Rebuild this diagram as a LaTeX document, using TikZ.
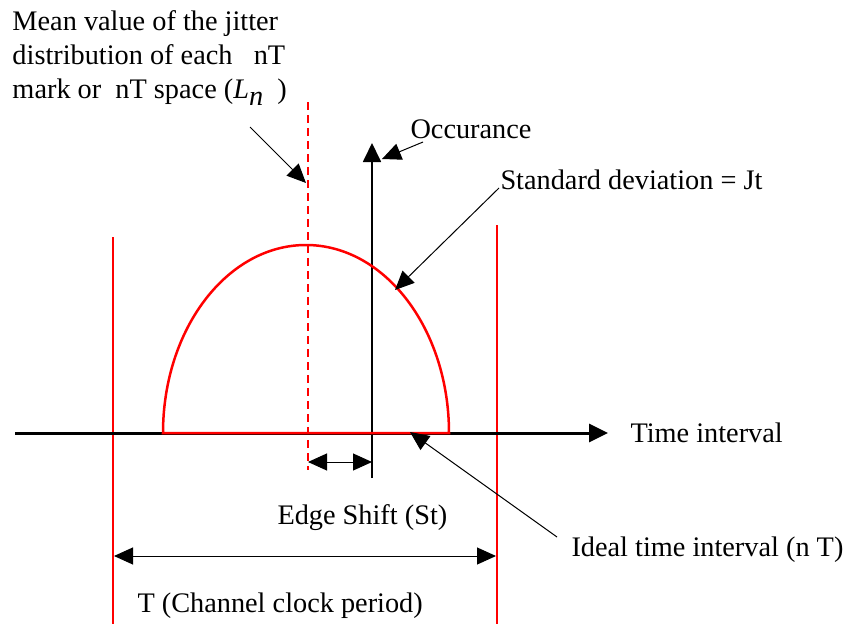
\documentclass[tikz,border=0pt]{standalone}
\usepackage{fontspec}
\setmainfont{Liberation Serif}
\usetikzlibrary{arrows.meta}

\begin{document}
\begin{tikzpicture}[x=1pt,y=-1pt,line width=1pt,
  lbl/.style={font=\fontsize{28.3}{34}\selectfont,inner sep=0pt},
  ptr/.style={-{Triangle[length=19pt,width=17pt]},line width=1pt},
  dblptr/.style={{Triangle[length=19pt,width=17pt]}-{Triangle[length=19pt,width=17pt]},line width=1pt}]
  \colorlet{clock}{red}
  \useasboundingbox (0,0) rectangle (846,624);
  % channel clock edges and the mean value of the distribution
  \draw[clock,line width=2.5pt] (113,237) -- (113,624);
  \draw[clock,line width=2.5pt] (497,225) -- (497,624);
  \draw[clock,line width=2.2pt,dash pattern=on 8pt off 5pt] (308,102) -- (308,470);
  % time axis and occurance axis
  \draw[-{Triangle[length=19pt,width=18pt]},line width=3pt] (15,433) -- (608,433);
  \draw[-{Triangle[length=19pt,width=18pt]},line width=1.8pt] (372,478) -- (372,143);
  % jitter distribution (half ellipse)
  \draw[clock,line width=2.5pt] (163,433) arc[start angle=180,end angle=0,x radius=143pt,y radius=188pt] -- cycle;
  % labels
  \node[lbl,align=left,anchor=north west] (mean) at (12,10)
    {Mean value of the jitter\\distribution of each \ \ nT\\mark or \ nT space (\textit{L}\raisebox{-.25em}{\textit{n}}\ \ )};
  \node[lbl,anchor=base west] (occ) at (410,138) {Occurance};
  \node[lbl,anchor=base west] (stddev) at (500,189) {Standard deviation = Jt};
  \node[lbl,anchor=base west] (timeint) at (630,442) {Time interval};
  \node[lbl,anchor=base west] (shift) at (277,524) {Edge Shift (St)};
  \node[lbl,anchor=base west] (ideal) at (571,556) {Ideal time interval (n T)};
  \node[lbl,anchor=base west] (period) at (137,612) {T (Channel clock period)};
  % pointers
  \coordinate (meanfrom) at (250,127);
  \coordinate (meantip) at (306,183);
  \coordinate (occfrom) at (423,142);
  \coordinate (occtip) at (382,159);
  \coordinate (stdfrom) at (499,188);
  \coordinate (stdtip) at (395,290);
  \coordinate (idealfrom) at (557,537);
  \coordinate (idealtip) at (410,432);
  \coordinate (shiftl) at (308,462);
  \coordinate (shiftr) at (372,462);
  \coordinate (periodl) at (114,556);
  \coordinate (periodr) at (496,556);
  \draw[ptr] (meanfrom) -- (meantip);
  \draw[ptr] (occfrom) -- (occtip);
  \draw[ptr] (stdfrom) -- (stdtip);
  \draw[ptr] (idealfrom) -- (idealtip);
  \draw[dblptr] (shiftl) -- (shiftr);
  \draw[dblptr] (periodl) -- (periodr);
\end{tikzpicture}
\end{document}
